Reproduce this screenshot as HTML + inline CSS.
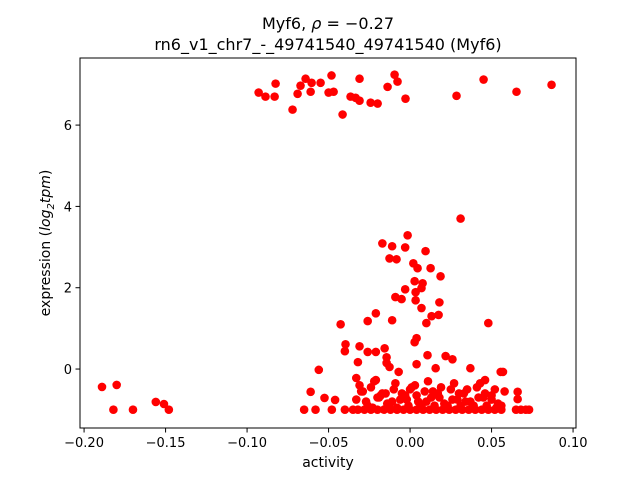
<!DOCTYPE html>
<html><head><meta charset="utf-8"><style>
body{margin:0;background:#fff;}
svg{display:block;font-family:"DejaVu Sans","Liberation Sans",sans-serif;}
</style></head><body>
<svg id="chart" width="640" height="480" viewBox="0 0 640 480">
<rect width="640" height="480" fill="#fff"/>
<text x="328" y="29" font-size="16" text-anchor="middle">Myf6, <tspan font-style="italic">ρ</tspan> = −0.27</text>
<text x="328" y="50" font-size="16" text-anchor="middle">rn6_v1_chr7_-_49741540_49741540 (Myf6)</text>
<g id="points"></g>
<rect x="80" y="58" width="496" height="370" fill="none" stroke="#000" stroke-width="1"/>
<g id="xaxis"></g>
<g id="yaxis"></g>
<text x="328" y="467" font-size="14" text-anchor="middle">activity</text>
<text transform="translate(50,243) rotate(-90)" font-size="14" text-anchor="middle">expression (<tspan font-style="italic">log</tspan><tspan font-style="italic" font-size="10" dy="4">2</tspan><tspan font-style="italic" dy="-4">tpm</tspan>)</text>
</svg>
<script>
const xTicks=[-0.20,-0.15,-0.10,-0.05,0.00,0.05,0.10];
const xTickLabels=["−0.20","−0.15","−0.10","−0.05","0.00","0.05","0.10"];
const yTicks=[0,2,4,6];
const yTickLabels=["0","2","4","6"];
const activity=[-0.0929,-0.0887,-0.0831,-0.0825,-0.0721,-0.0690,-0.0672,-0.0641,-0.0610,-0.0604,-0.0549,-0.0500,-0.0482,-0.0469,-0.0414,-0.0365,-0.0334,-0.0310,-0.0310,-0.0242,-0.0199,-0.0138,-0.0095,-0.0077,-0.0028,0.0285,0.0451,0.0653,0.0868,
-0.189,-0.180,-0.182,-0.170,-0.156,-0.151,-0.148,
0.031,-0.0015,-0.017,-0.011,-0.003,0.0095,-0.0126,-0.0083,0.002,0.0046,0.0126,0.0187,0.0028,0.0077,0.007,-0.003,0.0034,-0.009,-0.0052,0.0034,0.018,0.007,0.0175,0.0132,-0.021,-0.026,-0.011,0.010,-0.0426,0.048,0.004,0.0028,-0.0396,-0.040,-0.031,-0.026,-0.021,-0.0156,-0.0144,0.0107,0.0218,0.026,-0.032,0.004,0.037,-0.0144,-0.0126,-0.007,0.0157,0.057,0.0556,-0.056,0.046,-0.033,-0.021,-0.0525,-0.046,0.066,0.066,-0.061,
-0.065,-0.058,-0.048,-0.040,-0.035,-0.032,-0.028,-0.024,-0.020,-0.016,-0.012,-0.008,-0.004,0.000,0.004,0.008,0.012,0.016,0.020,0.024,0.028,0.032,0.036,0.040,0.044,0.048,0.052,0.056,0.065,0.068,0.071,0.073,
-0.033,-0.030,-0.027,-0.024,-0.020,-0.017,-0.014,-0.010,-0.006,-0.003,0.001,0.005,0.009,0.013,0.017,0.021,0.025,0.029,0.033,0.037,0.041,0.045,0.050,0.054,0.058,
-0.031,-0.026,-0.022,-0.018,-0.013,-0.009,-0.005,-0.001,0.003,0.007,0.011,0.015,0.019,0.023,0.027,0.031,0.035,0.039,0.043,0.047,0.052,0.056,
-0.029,-0.023,-0.015,-0.008,0.000,0.006,0.014,0.022,0.030,0.038,0.046,0.053,
-0.019,-0.011,-0.002,0.004,0.010,0.018,0.026,0.034,0.042,0.050];
const expression=[6.80,6.70,6.70,7.02,6.38,6.77,6.97,7.14,6.82,7.04,7.04,6.80,7.22,6.82,6.26,6.70,6.67,7.14,6.60,6.55,6.53,6.94,7.24,7.07,6.65,6.72,7.12,6.82,6.99,
-0.44,-0.39,-1.0,-1.0,-0.81,-0.86,-1.0,
3.70,3.29,3.09,3.02,2.99,2.90,2.72,2.70,2.60,2.48,2.48,2.28,2.16,2.11,1.99,1.96,1.89,1.77,1.72,1.69,1.64,1.50,1.33,1.30,1.37,1.18,1.20,1.13,1.10,1.13,0.76,0.66,0.61,0.44,0.56,0.42,0.42,0.51,0.29,0.34,0.32,0.24,0.17,0.12,0.02,0.15,0.05,-0.07,0.02,-0.07,-0.07,-0.02,-0.27,-0.22,-0.27,-0.71,-0.76,-0.56,-0.74,-0.56,
-1,-1,-1,-1,-1,-1,-1,-1,-1,-1,-1,-1,-1,-1,-1,-1,-1,-1,-1,-1,-1,-1,-1,-1,-1,-1,-1,-1,-1,-1,-1,-1,
-0.75,-0.55,-0.8,-0.45,-0.7,-0.6,-0.85,-0.5,-0.75,-0.65,-0.45,-0.8,-0.55,-0.7,-0.6,-0.85,-0.5,-0.75,-0.6,-0.8,-0.45,-0.7,-0.65,-0.85,-0.55,
-0.4,-0.9,-0.3,-0.65,-0.9,-0.35,-0.6,-0.9,-0.4,-0.9,-0.3,-0.9,-0.45,-0.9,-0.35,-0.9,-0.5,-0.9,-0.35,-0.9,-0.5,-0.9,
-0.55,-0.95,-0.6,-0.95,-0.5,-0.95,-0.55,-0.95,-0.6,-0.95,-0.6,-0.95,
-0.7,-0.8,-0.75,-0.65,-0.8,-0.7,-0.75,-0.8,-0.7,-0.75];
const X0=-0.2025,X1=0.1018,Y0=-1.45,Y1=7.65;
const PL=80,PR=576,PT=58,PB=428;
function sx(v){return PL+(v-X0)/(X1-X0)*(PR-PL);}
function sy(v){return PB-(v-Y0)/(Y1-Y0)*(PB-PT);}
const NS="http://www.w3.org/2000/svg";
const gp=document.getElementById('points');
for(let i=0;i<activity.length;i++){
  const c=document.createElementNS(NS,'circle');
  c.setAttribute('cx',sx(activity[i]));c.setAttribute('cy',sy(expression[i]));
  c.setAttribute('r',4.3);c.setAttribute('fill','#ff0000');
  
  
  gp.appendChild(c);
}
const gx=document.getElementById('xaxis');
xTicks.forEach((t,i)=>{
  const x=sx(t);
  const l=document.createElementNS(NS,'line');
  l.setAttribute('x1',x);l.setAttribute('x2',x);l.setAttribute('y1',PB);l.setAttribute('y2',PB+4.5);l.setAttribute('stroke','#000');
  
  
  gx.appendChild(l);
  const tx=document.createElementNS(NS,'text');
  tx.setAttribute('x',x);tx.setAttribute('y',PB+19);tx.setAttribute('font-size','13');tx.setAttribute('text-anchor','middle');
  tx.textContent=xTickLabels[i];
  
  
  gx.appendChild(tx);
});
const gy=document.getElementById('yaxis');
yTicks.forEach((t,i)=>{
  const y=sy(t);
  const l=document.createElementNS(NS,'line');
  l.setAttribute('x1',PL-4.5);l.setAttribute('x2',PL);l.setAttribute('y1',y);l.setAttribute('y2',y);l.setAttribute('stroke','#000');
  
  
  gy.appendChild(l);
  const tx=document.createElementNS(NS,'text');
  tx.setAttribute('x',PL-8);tx.setAttribute('y',y+5);tx.setAttribute('font-size','13');tx.setAttribute('text-anchor','end');
  tx.textContent=yTickLabels[i];
  
  
  gy.appendChild(tx);
});
</script>
</body></html>
